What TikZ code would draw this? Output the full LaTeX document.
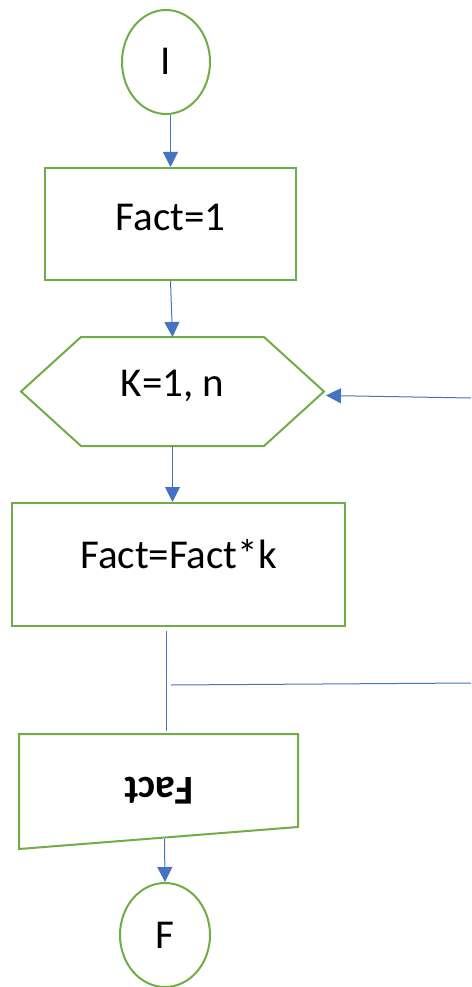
\documentclass[tikz,border=0pt]{standalone}
\usepackage{fontspec}
\setmainfont{Carlito}
\usepackage{graphicx}
\usepackage{xcolor}
\definecolor{flowGreen}{HTML}{70AD47}
\definecolor{flowBlue}{HTML}{4472C4}
\usetikzlibrary{arrows.meta, calc, shapes.geometric}
\tikzset{
  %% boxes of the flowchart, green outline, text sized as on the slide
  etape/.style     = {draw=flowGreen, line width=2pt, fill=white, align=center,
                      inner sep=0pt, text height=26pt, text depth=0pt,
                      font=\fontsize{41}{49}\selectfont},
  etapeTerm/.style = {etape, ellipse},
  etapeBloc/.style = {etape, rectangle},
  %% outline drawn by hand around an empty frame
  cadre/.style     = {etape, draw=none, fill=none},
  contour/.style   = {draw=flowGreen, line width=2pt, line join=miter},
  %% connectors
  fleche/.style    = {-{Triangle[length=15pt, width=15pt]}, draw=flowBlue,
                      line width=1pt},
  trait/.style     = {draw=flowBlue, line width=1pt},
}

\begin{document}
\begin{tikzpicture}[x=1pt, y=-1pt]
\useasboundingbox (0, 0) rectangle (471, 987);

\node[etapeTerm, minimum width=88, minimum height=104] (start) at (166, 62) {I};

\node[etapeBloc, minimum width=251, minimum height=112, text depth=14pt] (init)
     at (170.5, 224) {Fact=1};

\node[cadre, minimum width=301, minimum height=107, text depth=16pt] (loop)
     at (172.5, 391.5) {K=1, n};
\draw[contour] (loop.west) -- ($(loop.north west)+(60, 0)$)
     -- ($(loop.north east)+(-60, 0)$) -- (loop.east)
     -- ($(loop.south east)+(-60, 0)$) -- ($(loop.south west)+(60, 0)$) -- cycle;

\node[etapeBloc, minimum width=333, minimum height=123, text depth=18pt] (body)
     at (178.5, 564.5) {Fact=Fact*k};

\node[cadre, minimum width=277, minimum height=113, text height=0pt, text depth=28pt]
     (out) at (158.5, 791.5) {\rotatebox{180}{\bfseries Fact}};
\draw[contour] (out.north west) -- (out.north east)
     -- ($(out.south east)+(0, -22)$) -- (out.south west) -- cycle;

\node[etapeTerm, minimum width=90, minimum height=104] (stop) at (165, 935) {F};

\coordinate (retourA) at (171, 685);
\coordinate (retourB) at (471, 683);
\coordinate (retourC) at (471, 398);

\draw[fleche] (start.south -| init.north) -- (init.north);
\draw[fleche] (init.south) -- (loop.north);
\draw[fleche] (loop.south) -- (loop.south |- body.north);
\draw[trait] ([xshift=-12pt, yshift=-4pt]body.south) -- ([xshift=8pt, yshift=3pt]out.north);
\draw[trait] (retourA) -- (retourB);
\draw[fleche] (retourC) -- ([xshift=2pt, yshift=-4pt]loop.east);
\draw[fleche] ([xshift=6pt, yshift=10pt]out.south) -- (stop.north);

\end{tikzpicture}
\end{document}
